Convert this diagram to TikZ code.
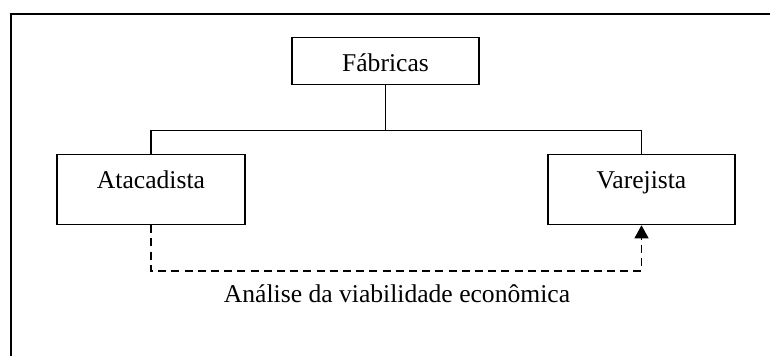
\documentclass[tikz,border=0pt]{standalone}
\usepackage{fontspec}
\setmainfont{Liberation Serif}
\usetikzlibrary{arrows.meta}
\begin{document}
\begin{tikzpicture}[x=0.5pt,y=-0.5pt,
  box/.style={draw,line width=0.65pt,inner sep=0pt,text height=17pt,anchor=north,
    font=\fontsize{12.8}{15}\selectfont},
  conn/.style={line width=0.6pt},
  dashconn/.style={line width=0.6pt,dash pattern=on 4pt off 2.6pt},
  frame/.style={line width=1pt},
  lbl/.style={font=\fontsize{12.8}{15}\selectfont,inner sep=0pt,anchor=base}]
\useasboundingbox (0,0) rectangle (770,356);
\coordinate (fl) at (11,356);
\coordinate (fc) at (11,14);
\coordinate (fr) at (770,14);
\draw[frame] (fl) -- (fc) -- (fr);
\node[box,minimum width=93.5pt,text depth=6.5pt] (fab) at (385.5,37) {Fábricas};
\node[box,minimum width=94pt,text depth=18pt] (ata) at (151,154) {Atacadista};
\node[box,minimum width=93.5pt,text depth=18pt] (var) at (641.5,154) {Varejista};
\coordinate (hl) at (151,130.5);
\coordinate (hr) at (641.5,130.5);
\draw[conn] (fab.south) -- (fab.south |- hl);
\draw[conn] (ata.north) -- (hl) -- (hr) -- (var.north);
\coordinate (dl) at (151,271);
\draw[dashconn,-{Triangle[length=6.5pt,width=7pt,sep=0pt]}] (ata.south) -- (dl) -| (var.south);
\node[lbl] (an) at (397,303) {Análise da viabilidade econômica};
\end{tikzpicture}
\end{document}
